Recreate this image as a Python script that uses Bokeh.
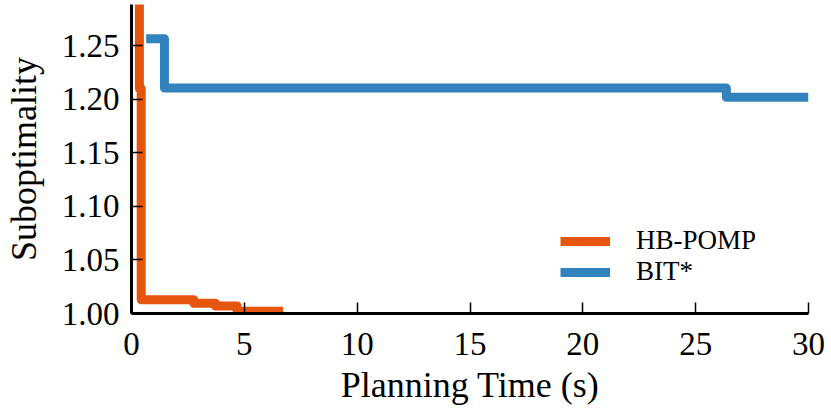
from bokeh.plotting import figure
from bokeh.models import Range1d, FixedTicker, NumeralTickFormatter, Legend, LegendItem
from bokeh.embed import file_html
from bokeh.resources import INLINE

# Data
hb_time = [0.35, 0.35, 0.43, 2.76, 3.72, 4.68, 6.72]
hb_subopt = [1.40, 1.21, 1.0128, 1.0096, 1.0070, 1.0020, 1.0020]

bit_time = [0.65, 1.46, 26.36, 30.0]
bit_subopt = [1.2565, 1.2104, 1.2018, 1.2018]

x_ticks = [0, 5, 10, 15, 20, 25, 30]
y_ticks = [1.00, 1.05, 1.10, 1.15, 1.20, 1.25]

ORANGE = "#e6550d"
BLUE = "#3182bd"
FONT = "Liberation Serif"

p = figure(width=831, height=417, output_backend="svg", toolbar_location=None,
           x_range=Range1d(0, 30), y_range=Range1d(1.0, 1.2884),
           min_border_left=131, min_border_right=23, min_border_top=4,
           min_border_bottom=104)
p.outline_line_color = None
p.xgrid.visible = False
p.ygrid.visible = False
p.background_fill_color = "white"
p.border_fill_color = "white"

r_hb = p.step(hb_time, hb_subopt, mode="after", line_color=ORANGE, line_width=9,
              line_join="round", line_cap="butt")
r_bit = p.step(bit_time, bit_subopt, mode="after", line_color=BLUE, line_width=9,
               line_join="round", line_cap="butt")

for ax in (p.xaxis[0], p.yaxis[0]):
    ax.axis_line_width = 3
    ax.axis_line_color = "black"
    ax.major_tick_in = 11
    ax.major_tick_out = 0
    ax.major_tick_line_width = 1.5
    ax.minor_tick_line_color = None
    ax.major_label_text_font = FONT
    ax.major_label_text_font_size = "33px"
    ax.major_label_text_color = "black"
    ax.axis_label_text_font = FONT
    ax.axis_label_text_font_size = "36px"
    ax.axis_label_text_font_style = "normal"
    ax.axis_label_text_color = "black"

p.xaxis.ticker = FixedTicker(ticks=x_ticks)
p.yaxis.ticker = FixedTicker(ticks=y_ticks)
p.yaxis.formatter = NumeralTickFormatter(format="0.00")
p.xaxis.axis_label = "Planning Time (s)"
p.yaxis.axis_label = "Suboptimality"
p.xaxis.major_label_standoff = 19
p.yaxis.major_label_standoff = 12
p.xaxis.axis_label_standoff = 7
p.yaxis.axis_label_standoff = 15

def make_legend(label, renderer, y):
    lg = Legend(items=[LegendItem(label=label, renderers=[renderer])],
                location=(429, y), border_line_color=None,
                background_fill_alpha=0, padding=0, margin=0, spacing=0,
                glyph_width=50, glyph_height=20, label_standoff=26,
                label_text_font=FONT, label_text_font_size="27px",
                label_text_color="black", label_height=20)
    p.add_layout(lg, "center")

make_legend("HB-POMP", r_hb, 57)
make_legend("BIT*", r_bit, 26)

open("out.html", "w").write(file_html(p, INLINE))
